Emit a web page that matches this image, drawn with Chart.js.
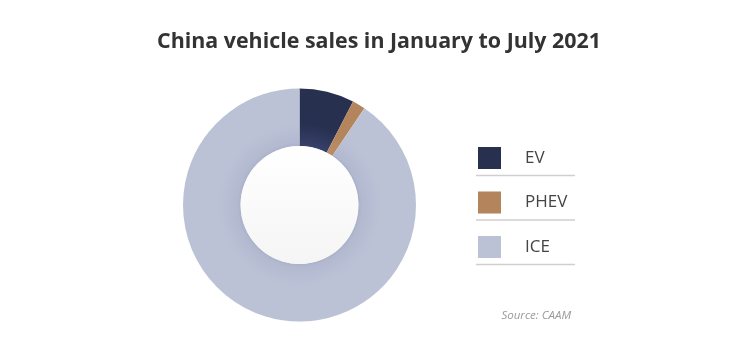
<!DOCTYPE html>
<html>
<head>
<meta charset="utf-8">
<script src="https://cdn.jsdelivr.net/npm/chart.js@4/dist/chart.umd.min.js"></script>
<style>
  html, body { margin: 0; padding: 0; background: #ffffff; }
  #wrap { width: 750px; height: 356px; position: relative; }
</style>
</head>
<body>
<div id="wrap"><canvas id="c" width="750" height="356"></canvas></div>
<script>
const titleText = "China vehicle sales in January to July 2021";
const sourceText = "Source: CAAM";
const categories = ["EV", "PHEV", "ICE"];
const shares = [7.6, 1.8, 90.6];
const baseColors = ["#27304f", "#b4855d", "#bcc2d6"];
const innerColors = ["#36406a", "#bc8e66", "#b1b8cf"];
const legendColors = ["#27304f", "#b4855d", "#bcc2d6"];
const CUT = 0.506;

function ringGradient(ctx, i) {
  const ca = ctx.chart.chartArea;
  if (!ca) return baseColors[i];
  const cx = (ca.left + ca.right) / 2, cy = (ca.top + ca.bottom) / 2;
  const R = Math.min(ca.right - ca.left, ca.bottom - ca.top) / 2;
  const r = R * CUT;
  const g = ctx.chart.ctx.createRadialGradient(cx, cy, r, cx, cy, R);
  g.addColorStop(0, innerColors[i]);
  g.addColorStop(0.4, baseColors[i]);
  g.addColorStop(1, baseColors[i]);
  return g;
}

const decor = {
  id: 'decor',
  afterDatasetsDraw(chart) {
    const c = chart.ctx;
    const meta = chart.getDatasetMeta(0);
    const arc = meta.data[0];
    if (!arc) return;
    const cx = arc.x, cy = arc.y, r = arc.innerRadius;
    c.save();
    c.shadowColor = 'rgba(70,80,120,0.15)';
    c.shadowBlur = 4;
    const lg = c.createLinearGradient(0, cy - r, 0, cy + r);
    lg.addColorStop(0, '#ffffff');
    lg.addColorStop(1, '#f5f5f5');
    c.fillStyle = lg;
    c.beginPath();
    c.arc(cx, cy, r, 0, Math.PI * 2);
    c.fill();
    c.restore();
  },
  afterDraw(chart) {
    const c = chart.ctx;
    c.save();
    // title
    c.fillStyle = '#333333';
    c.font = 'bold 21px "Open Sans", Lato, sans-serif';
    c.textAlign = 'center';
    c.textBaseline = 'alphabetic';
    const tw = c.measureText(titleText).width;
    const targetW = 444;
    c.save();
    c.translate(379, 48);
    c.scale(targetW / tw, 1);
    c.fillText(titleText, 0, 0);
    c.restore();
    // legend
    const x0 = 478, y0 = 147, step = 44.5;
    categories.forEach((lab, i) => {
      const y = y0 + i * step;
      c.fillStyle = legendColors[i];
      c.fillRect(x0, y, 23, 22);
      c.fillStyle = '#444444';
      c.font = '400 17px "Open Sans", Lato, sans-serif';
      c.textAlign = 'left';
      c.textBaseline = 'middle';
      c.fillText(lab, 525, y + 11);
      c.strokeStyle = '#cfcfcf';
      c.lineWidth = 1.5;
      c.beginPath();
      c.moveTo(476, y + 28.5);
      c.lineTo(575, y + 28.5);
      c.stroke();
    });
    // source
    c.fillStyle = '#9a9a9a';
    c.font = 'italic 400 11.5px "Open Sans", Lato, sans-serif';
    c.textAlign = 'right';
    c.textBaseline = 'middle';
    c.fillText(sourceText, 571, 316);
    c.restore();
  }
};

new Chart(document.getElementById('c'), {
  type: 'doughnut',
  data: {
    labels: categories,
    datasets: [{
      data: shares,
      backgroundColor: (ctx) => ringGradient(ctx, ctx.dataIndex),
      borderWidth: 0,
      hoverOffset: 0
    }]
  },
  options: {
    responsive: false,
    animation: false,
    cutout: (CUT * 100) + '%',
    layout: { padding: { left: 183, right: 334, top: 88.5, bottom: 34.5 } },
    plugins: {
      legend: { display: false },
      title: { display: false },
      tooltip: { enabled: false }
    }
  },
  plugins: [decor]
});
</script>
</body>
</html>
